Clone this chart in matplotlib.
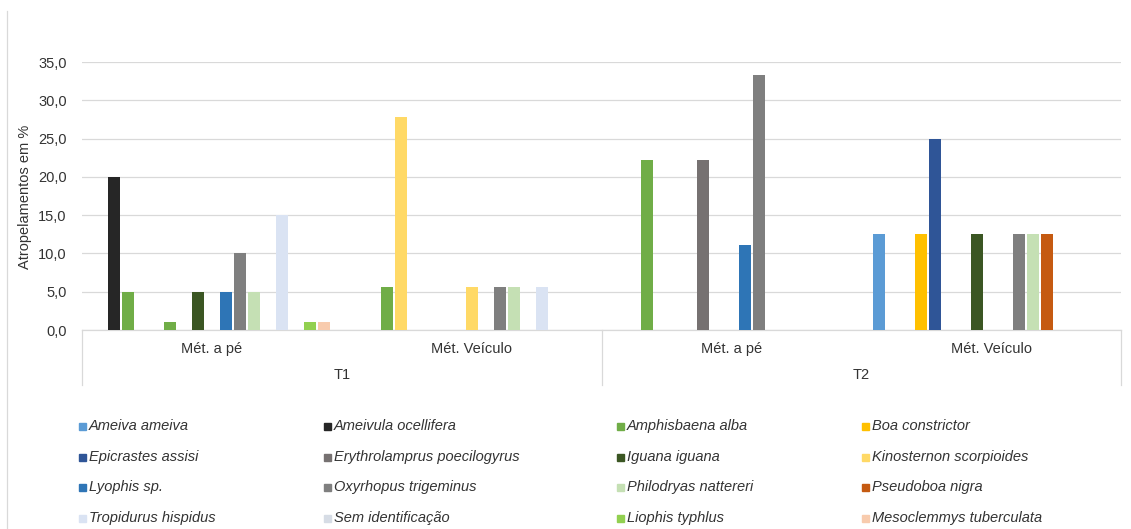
import matplotlib.pyplot as plt
from matplotlib.lines import Line2D
from matplotlib.patches import Rectangle
from matplotlib.transforms import blended_transform_factory

plt.rcParams["font.family"] = ["Liberation Sans", "DejaVu Sans"]

periods = ["T1", "T2"]
methods = ["Mét. a pé", "Mét. Veículo", "Mét. a pé", "Mét. Veículo"]

# series in plotting order; None = series without legend entry
species = [
    "Ameiva ameiva", "Ameivula ocellifera", "Amphisbaena alba", "Boa constrictor",
    "Epicrastes assisi", None, "Erythrolamprus poecilogyrus", "Iguana iguana",
    "Kinosternon scorpioides", "Lyophis sp.", "Oxyrhopus trigeminus", "Philodryas nattereri",
    "Pseudoboa nigra", "Tropidurus hispidus", "Sem identificação", "Liophis typhlus",
    "Mesoclemmys tuberculata",
]
ameiva_ameiva = [0, 0, 0, 12.5]
ameivula_ocellifera = [20.0, 0, 0, 0]
amphisbaena_alba = [5.0, 5.56, 22.22, 0]
boa_constrictor = [0, 27.78, 0, 12.5]
epicrastes_assisi = [0, 0, 0, 25.0]
unlabelled = [1.0, 0, 0, 0]
erythrolamprus_poecilogyrus = [0, 0, 22.22, 0]
iguana_iguana = [5.0, 0, 0, 12.5]
kinosternon_scorpioides = [0, 5.56, 0, 0]
lyophis_sp = [5.0, 0, 11.11, 0]
oxyrhopus_trigeminus = [10.0, 5.56, 33.33, 12.5]
philodryas_nattereri = [5.0, 5.56, 0, 12.5]
pseudoboa_nigra = [0, 0, 0, 12.5]
tropidurus_hispidus = [15.0, 5.56, 0, 0]
sem_identificacao = [0, 0, 0, 0]
liophis_typhlus = [1.0, 0, 0, 0]
mesoclemmys_tuberculata = [1.0, 0, 0, 0]

values = [
    ameiva_ameiva, ameivula_ocellifera, amphisbaena_alba, boa_constrictor,
    epicrastes_assisi, unlabelled, erythrolamprus_poecilogyrus, iguana_iguana,
    kinosternon_scorpioides, lyophis_sp, oxyrhopus_trigeminus, philodryas_nattereri,
    pseudoboa_nigra, tropidurus_hispidus, sem_identificacao, liophis_typhlus,
    mesoclemmys_tuberculata,
]
colors = [
    "#5B9BD5", "#262626", "#70AD47", "#FFC000",
    "#2F5597", "#70AD47", "#767171", "#3B5623",
    "#FFD966", "#2E75B6", "#7F7F7F", "#C5E0B4",
    "#C55A11", "#DAE3F3", "#D6DCE5", "#92D050",
    "#F8CBAD",
]
# single points drawn in another colour in the original
point_colors = {(3, 1): "#FFD966"}

W, H = 1131, 529
fig = plt.figure(figsize=(W / 100, H / 100), dpi=100)
ax = fig.add_axes([82 / W, 1 - 330 / H, (1121 - 82) / W, (330 - 62) / H])

n = len(species)
pitch = 1 / (n + 1.5)
for k, vals in enumerate(values):
    for g, v in enumerate(vals):
        if v <= 0:
            continue
        x = g - 0.5 + (0.75 + k + 0.5) * pitch
        c = point_colors.get((k, g), colors[k])
        ax.bar(x, v, width=pitch * 0.86, color=c, edgecolor="none", zorder=3)

ax.set_xlim(-0.5, 3.5)
ax.set_ylim(0, 35)
ax.set_yticks(range(0, 36, 5))
ax.set_yticklabels([f"{t:.1f}".replace(".", ",") for t in range(0, 36, 5)],
                   fontsize=10.5, color="#333333")
ax.tick_params(axis="y", length=0, pad=11)
ax.set_xticks([])
ax.grid(axis="y", color="#D9D9D9", linewidth=0.9, zorder=0)
for s in ["top", "left", "right"]:
    ax.spines[s].set_visible(False)
ax.spines["bottom"].set_color("#D9D9D9")
ax.spines["bottom"].set_linewidth(0.9)

# multi-level category axis
tr = blended_transform_factory(ax.transData, ax.transAxes)
for g, m in enumerate(methods):
    ax.text(g, -19 / 268, m, transform=tr, ha="center", va="center",
            fontsize=10.5, color="#333333")
for p, name in enumerate(periods):
    ax.text(2 * p + 0.5, -45 / 268, name, transform=tr, ha="center", va="center",
            fontsize=10.5, color="#333333")
for xs in [-0.5, 1.5, 3.5]:
    ax.add_line(Line2D([xs, xs], [0, -55 / 268], transform=tr, color="#D9D9D9",
                       linewidth=0.9, clip_on=False))

fig.text(25 / W, 1 - 197 / H, "Atropelamentos em %", rotation=90, ha="center",
         va="center", fontsize=10.5, color="#333333")

# chart border fragment on the left
fig.add_artist(Line2D([7 / W, 7 / W], [0, 1 - 11 / H], transform=fig.transFigure,
                      color="#D9D9D9", linewidth=0.9))

# legend, 4 columns, row-major
col_x = [79, 324, 617, 862]
row_y = [426, 457, 487, 518]
entries = [(name, colors[k]) for k, name in enumerate(species) if name is not None]
for i, (name, c) in enumerate(entries):
    cx, cy = col_x[i % 4], row_y[i // 4]
    fig.add_artist(Rectangle((cx / W, 1 - (cy + 3.5) / H), 7 / W, 7 / H,
                             transform=fig.transFigure, color=c))
    fig.text((cx + 10) / W, 1 - cy / H, name, ha="left", va="center",
             fontsize=10.5, style="italic", color="#333333")

fig.savefig("out.png", dpi=100)
